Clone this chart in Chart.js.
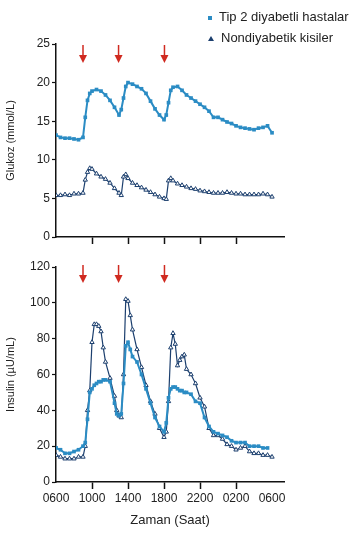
<!DOCTYPE html>
<html>
<head>
<meta charset="utf-8">
<script src="https://cdn.jsdelivr.net/npm/chart.js@4"></script>
<style>
  body { margin: 0; background: #fff; }
  #wrap { position: relative; width: 362px; height: 555px; overflow: hidden; }
  #glucoseChart { position: absolute; left: 0; top: 0; }
  #insulinChart { position: absolute; left: 0; top: 250px; }
  .legend { position: absolute; left: 208px; font: 13px "Liberation Sans", Arial, sans-serif; color: #222; white-space: nowrap; }
  .legend span.mk { display: inline-block; vertical-align: middle; margin-right: 7px; }
  .sq { width: 4px; height: 4px; background: #2b8cc4; }
  .tri { width: 0; height: 0; border-left: 3px solid transparent; border-right: 3px solid transparent; border-bottom: 5px solid #1c3f6e; }
</style>
</head>
<body>
<div id="wrap">
  <canvas id="glucoseChart" width="362" height="250"></canvas>
  <canvas id="insulinChart" width="362" height="305"></canvas>
  <div class="legend" style="top:9px"><span class="mk sq"></span>Tip 2 diyabetli hastalar</div>
  <div class="legend" style="top:30px"><span class="mk tri"></span>Nondiyabetik kisiler</div>
</div>
<script>
// hours after 0600
const glucoseHours = [0, 0.5, 1, 1.5, 2, 2.5, 3, 3.25, 3.5, 3.75, 4, 4.5, 5, 5.5, 6, 6.5, 7, 7.25, 7.5, 7.75,
  8, 8.5, 9, 9.5, 10, 10.5, 11, 11.5, 12, 12.25, 12.5, 12.75, 13, 13.5, 14, 14.5, 15, 15.5, 16, 16.5,
  17, 17.5, 18, 18.5, 19, 19.5, 20, 20.5, 21, 21.5, 22, 22.5, 23, 23.5, 24];
const glucoseType2 = [13.2, 12.9, 12.8, 12.8, 12.7, 12.6, 12.9, 15.5, 17.7, 18.6, 18.9, 19.1, 18.9, 18.4, 17.7, 16.8, 15.8, 16.5, 18.0, 19.5,
  20.0, 19.8, 19.5, 19.2, 18.6, 17.6, 16.6, 15.8, 15.2, 15.8, 17.4, 19.0, 19.4, 19.5, 19.0, 18.4, 18.0, 17.6, 17.2, 16.8,
  16.3, 15.5, 15.5, 15.2, 14.9, 14.7, 14.4, 14.2, 14.1, 14.0, 13.9, 14.1, 14.2, 14.4, 13.5];
const glucoseNormal = [5.4, 5.4, 5.5, 5.4, 5.6, 5.6, 5.7, 7.4, 8.4, 8.9, 8.8, 8.2, 7.8, 7.5, 7.0, 6.3, 5.7, 5.4, 7.8, 8.1,
  7.6, 7.0, 6.7, 6.4, 6.1, 5.8, 5.5, 5.2, 5.0, 4.9, 7.3, 7.6, 7.3, 6.9, 6.7, 6.5, 6.3, 6.2, 6.0, 5.9,
  5.8, 5.7, 5.7, 5.7, 5.8, 5.7, 5.6, 5.6, 5.5, 5.5, 5.5, 5.5, 5.6, 5.5, 5.2];

const insulinHours = [0, 0.5, 1, 1.5, 2, 2.5, 3, 3.25, 3.5, 3.75, 4, 4.25, 4.5, 4.75, 5, 5.25, 5.5, 6, 6.5, 6.75,
  7, 7.25, 7.5, 7.75, 8, 8.25, 8.5, 9, 9.5, 10, 10.5, 11, 11.5, 12, 12.25, 12.5, 12.75, 13, 13.25, 13.5,
  13.75, 14, 14.25, 14.5, 15, 15.5, 16, 16.5, 17, 17.5, 18, 18.5, 19, 19.5, 20, 20.5, 21, 21.5, 22, 22.5,
  23, 23.5, 24];
const insulinType2 = [19, 18, 16, 16, 17, 18, 20, 22, 35, 50, 52, 54, 55, 56, 56, 57, 57, 56, 44, 38,
  37, 38, 55, 76, 78, 74, 70, 67, 60, 52, 44, 36, 31, 28, 33, 47, 52, 53, 53, 52,
  51, 51, 50, 50, 49, 45, 44, 36, 31, 28, 27, 26, 25, 23, 22, 22, 22, 20, 20, 20,
  19, 19, null];
const insulinNormal = [15, 14, 13, 13, 13, 14, 14, 20, 40, 51, 78, 88, 88, 87, 84, 75, 67, 58, 48, 40,
  37, 36, 60, 102, 101, 93, 85, 74, 64, 54, 45, 38, 30, 25, 28, 45, 75, 83, 77, 65,
  68, 70, 71, 63, 60, 55, 47, 42, 30, 26, 26, 24, 21, 20, 18, 19, 20, 17, 16, 16,
  15, 15, 14];

const tickHours = [0, 4, 8, 12, 16, 20, 24];
const tickLabels = ['0600', '1000', '1400', '1800', '2200', '0200', '0600'];
const mealHours = [3.0, 6.95, 12.05];

const lightBlue = '#2b8cc4';
const navy = '#1c3f6e';

Chart.defaults.font.family = '"Liberation Sans", Arial, sans-serif';
Chart.defaults.font.size = 12;
Chart.defaults.color = '#222';

const toPoints = (xs, ys) => xs.map((x, i) => ({ x: x, y: ys[i] }));

const mealArrows = {
  id: 'mealArrows',
  afterDatasetsDraw(chart, args, opts) {
    const ctx = chart.ctx;
    const xs = chart.scales.x;
    const top = chart.chartArea.top + opts.offset;
    ctx.save();
    ctx.strokeStyle = '#d02a20';
    ctx.fillStyle = '#d02a20';
    ctx.lineWidth = 1.5;
    mealHours.forEach(h => {
      const x = xs.getPixelForValue(h);
      ctx.beginPath();
      ctx.moveTo(x, top);
      ctx.lineTo(x, top + 11);
      ctx.stroke();
      ctx.beginPath();
      ctx.moveTo(x - 4, top + 10);
      ctx.lineTo(x + 4, top + 10);
      ctx.lineTo(x, top + 18);
      ctx.closePath();
      ctx.fill();
    });
    ctx.restore();
  }
};

function makeChart(canvas, cfg) {
  return new Chart(canvas, {
    type: 'line',
    data: {
      datasets: [{
        label: 'Tip 2 diyabetli hastalar',
        data: toPoints(cfg.hours, cfg.type2),
        borderColor: lightBlue,
        backgroundColor: lightBlue,
        borderWidth: 2,
        pointStyle: 'rect',
        pointRadius: 2.6,
        pointBorderWidth: 0,
        tension: 0
      }, {
        label: 'Nondiyabetik kisiler',
        data: toPoints(cfg.hours, cfg.normal),
        borderColor: navy,
        backgroundColor: '#fff',
        borderWidth: 1.2,
        pointStyle: 'triangle',
        pointRadius: 2.5,
        pointBorderWidth: 1,
        pointBorderColor: navy,
        tension: 0
      }]
    },
    options: {
      responsive: false,
      animation: false,
      layout: { padding: cfg.padding },
      plugins: {
        legend: { display: false },
        tooltip: { enabled: false },
        mealArrows: { offset: cfg.arrowOffset }
      },
      scales: {
        x: {
          type: 'linear',
          min: 0,
          max: 25.33,
          afterBuildTicks: s => { s.ticks = tickHours.map(v => ({ value: v })); },
          afterFit: s => { s.height = cfg.xHeight; },
          border: { color: '#111', width: 1.5 },
          grid: {
            drawOnChartArea: false,
            tickLength: 7,
            tickWidth: 1.5,
            color: c => (c.tick && (c.tick.value === 0 || c.tick.value === 24)) ? 'rgba(0,0,0,0)' : '#111'
          },
          ticks: {
            display: cfg.showXLabels,
            autoSkip: false,
            maxRotation: 0,
            padding: 2,
            callback: (v, i) => tickLabels[i]
          },
          title: {
            display: cfg.showXLabels,
            text: 'Zaman (Saat)',
            font: { size: 13 },
            padding: { top: 6, bottom: 4 }
          }
        },
        y: {
          min: 0,
          max: cfg.yMax,
          afterBuildTicks: s => { s.ticks = cfg.yTicks.map(v => ({ value: v })); },
          afterFit: s => { s.width = 56; },
          border: { color: '#111', width: 1.5 },
          grid: { drawOnChartArea: false, tickLength: 4, tickWidth: 1.2, color: '#111' },
          ticks: { padding: 2 },
          title: {
            display: true,
            text: cfg.yTitle,
            font: { size: 11 },
            padding: { top: 4, bottom: 0 }
          }
        }
      }
    },
    plugins: [mealArrows]
  });
}

makeChart(document.getElementById('glucoseChart'), {
  hours: glucoseHours,
  type2: glucoseType2,
  normal: glucoseNormal,
  yMax: 25,
  yTicks: [0, 5, 10, 15, 20, 25],
  yTitle: 'Glukoz (mmol/L)',
  padding: { top: 44, right: 78, bottom: 0, left: 0 },
  xHeight: 13,
  showXLabels: false,
  arrowOffset: 1
});

makeChart(document.getElementById('insulinChart'), {
  hours: insulinHours,
  type2: insulinType2,
  normal: insulinNormal,
  yMax: 120,
  yTicks: [0, 20, 40, 60, 80, 100, 120],
  yTitle: 'Insulin (\u00b5U/mL)',
  padding: { top: 17, right: 78, bottom: 23, left: 0 },
  xHeight: 50,
  showXLabels: true,
  arrowOffset: -2
});
</script>
</body>
</html>
